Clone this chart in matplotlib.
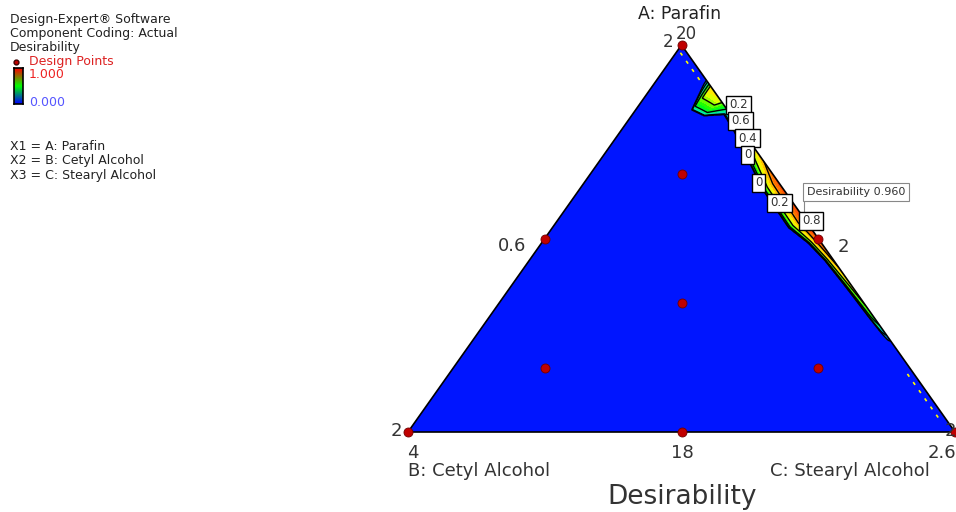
import matplotlib
matplotlib.use("Agg")
import matplotlib.pyplot as plt
import numpy as np
from matplotlib.colors import LinearSegmentedColormap
from matplotlib.patches import Polygon

plt.rcParams['font.family'] = ['DejaVu Sans']

# mixture design points (A: Parafin, B: Cetyl Alcohol, C: Stearyl Alcohol), fractions
design_A = [1, 0, 0, 0.5, 0.5, 0, 1/3, 2/3, 1/6, 1/6]
design_B = [0, 1, 0, 0.5, 0, 0.5, 1/3, 1/6, 2/3, 1/6]
design_C = [0, 0, 1, 0, 0.5, 0.5, 1/3, 1/6, 1/6, 2/3]

# desirability ridge along the A-C edge: position s = C/(A+C), peak value, depth in B
ridge_s = [0.0, 0.09, 0.11, 0.14, 0.17, 0.21, 0.27, 0.35, 0.45, 0.50, 0.55, 0.62, 0.70, 0.74, 0.77, 1.0]
ridge_peak = [0.0, 0.0, 0.75, 0.70, 0.35, 0.45, 0.72, 0.92, 0.96, 0.93, 0.85, 0.70, 0.55, 0.30, 0.0, 0.0]
ridge_depth = [0.001, 0.004, 0.065, 0.05, 0.012, 0.015, 0.025, 0.038, 0.040, 0.024, 0.016, 0.012, 0.009, 0.007, 0.004, 0.001]

contour_labels = ["0.2", "0.6", "0.4", "0", "0", "0.2", "0.8"]
label_px = [(729, 105), (731, 121), (738, 138), (744, 155), (755, 183), (770, 203), (802, 221)]

legend_lines = ["Design-Expert\u00ae Software", "Component Coding: Actual", "Desirability"]
factor_lines = ["X1 = A: Parafin", "X2 = B: Cetyl Alcohol", "X3 = C: Stearyl Alcohol"]

W, H = 956, 512
fig = plt.figure(figsize=(W / 100, H / 100), dpi=100)


def fx(px):
    return px / W


def fy(py):
    return 1 - py / H


def tern(a, b, c):
    a, b, c = np.asarray(a), np.asarray(b), np.asarray(c)
    return c + a / 2, a


ax = fig.add_axes([408 / W, 80 / H, 547 / W, 387 / H])
ax.set_xlim(0, 1)
ax.set_ylim(0, 1)
ax.axis('off')

cmap = LinearSegmentedColormap.from_list(
    'de', [(0, '#0000ff'), (0.25, '#00e0ff'), (0.5, '#00ff00'), (0.7, '#ffff00'), (0.85, '#ff8000'), (1, '#ff2000')])

# surface on a grid
gx, gy = np.meshgrid(np.linspace(0, 1, 1000), np.linspace(0, 1, 1000))
gC = gx - gy / 2
gB = np.clip(1 - gy / 2 - gx, 0, None)
s = np.clip(gC / np.clip(1 - gB, 1e-6, None), 0, 1)
peak = np.interp(s, ridge_s, ridge_peak)
depth = np.interp(s, ridge_s, ridge_depth)
D = peak * np.clip(1 - gB / depth, 0, 1) ** 0.35

tri = Polygon([(0, 0), (1, 0), (0.5, 1)], closed=True, facecolor='#0000ff', edgecolor='none', zorder=1)
ax.add_patch(tri)
cf = ax.contourf(gx, gy, D, levels=np.linspace(0, 1, 21), cmap=cmap, zorder=2)
cf.set_clip_path(tri)
cl = ax.contour(gx, gy, D, levels=[0.05, 0.2, 0.4, 0.6, 0.8], colors='black', linewidths=1.0, zorder=3)
cl.set_clip_path(tri)

# yellow dash artefacts near the A-C edge
for s0, s1 in [(0.02, 0.10), (0.85, 0.97)]:
    ss = np.linspace(s0, s1, 30)
    xx, yy = tern(1 - ss, np.full_like(ss, 0.012), ss - 0.012)
    ax.plot(xx, yy, color='#ffff00', lw=1.2, ls=(0, (2, 4)), zorder=3)

ax.add_patch(Polygon([(0, 0), (1, 0), (0.5, 1)], closed=True, facecolor='none',
                     edgecolor='black', lw=1.2, zorder=4, clip_on=False))

dx, dy = tern(design_A, design_B, design_C)
ax.plot(dx, dy, 'o', ms=6.5, color='#c00000', mec='#700000', mew=0.6, clip_on=False, zorder=5)

# contour label boxes
for txt, (px, py) in zip(contour_labels, label_px):
    fig.text(fx(px), fy(py), txt, fontsize=8.5, ha='left', va='center', color='#333333',
             bbox=dict(boxstyle='square,pad=0.25', fc='white', ec='black', lw=1.0))
fig.text(fx(807), fy(192), "Desirability 0.960", fontsize=8, ha='left', va='center', color='#333333',
         bbox=dict(boxstyle='square,pad=0.35', fc='white', ec='#888888', lw=0.8))
fig.add_artist(plt.Line2D([fx(804), fx(804)], [fy(200), fy(216)], color='#888888', lw=0.8))

# vertex / axis labels
big = dict(fontsize=13, va='center', color='#333333')
fig.text(fx(680), fy(14), "A: Parafin", ha='center', fontsize=12.5, va='center', color='#222222')
fig.text(fx(686), fy(34), "20", ha='center', fontsize=12, va='center', color='#333333')
fig.text(fx(668), fy(42), "2", ha='center', fontsize=12, va='center', color='#333333')
fig.text(fx(512), fy(246), "0.6", ha='center', **big)
fig.text(fx(843), fy(247), "2", ha='center', **big)
fig.text(fx(396), fy(431), "2", ha='center', **big)
fig.text(fx(950), fy(431), "2", ha='center', **big)
fig.text(fx(413), fy(453), "4", ha='center', **big)
fig.text(fx(682), fy(453), "18", ha='center', **big)
fig.text(fx(942), fy(453), "2.6", ha='center', **big)
fig.text(fx(408), fy(471), "B: Cetyl Alcohol", ha='left', **big)
fig.text(fx(770), fy(471), "C: Stearyl Alcohol", ha='left', **big)
fig.text(fx(682), fy(497), "Desirability", fontsize=19, ha='center', va='center', color='#333333')

# legend block
small = dict(fontsize=9, ha='left', va='center')
for i, line in enumerate(legend_lines):
    fig.text(fx(10), fy(19 + 14 * i), line, color='#222222', **small)
fig.add_artist(plt.Line2D([fx(16)], [fy(62)], marker='o', ms=3.5, color='#c00000', mec='#400000'))
fig.text(fx(29), fy(62), "Design Points", color='#dd2222', **small)
cax = fig.add_axes([fx(14), fy(104), 9 / W, 36 / H])
cax.imshow(np.linspace(1, 0, 50)[:, None], aspect='auto', cmap=LinearSegmentedColormap.from_list(
    'bar', ['#0000ff', '#00ff00', '#ff0000']))
cax.set_xticks([])
cax.set_yticks([])
for sp in cax.spines.values():
    sp.set_linewidth(1.2)
fig.text(fx(29), fy(75), "1.000", color='#ee2222', **small)
fig.text(fx(29), fy(103), "0.000", color='#5555ff', **small)
for i, line in enumerate(factor_lines):
    fig.text(fx(10), fy(146 + 14.5 * i), line, color='#222222', **small)

fig.savefig("out.png", dpi=100)
